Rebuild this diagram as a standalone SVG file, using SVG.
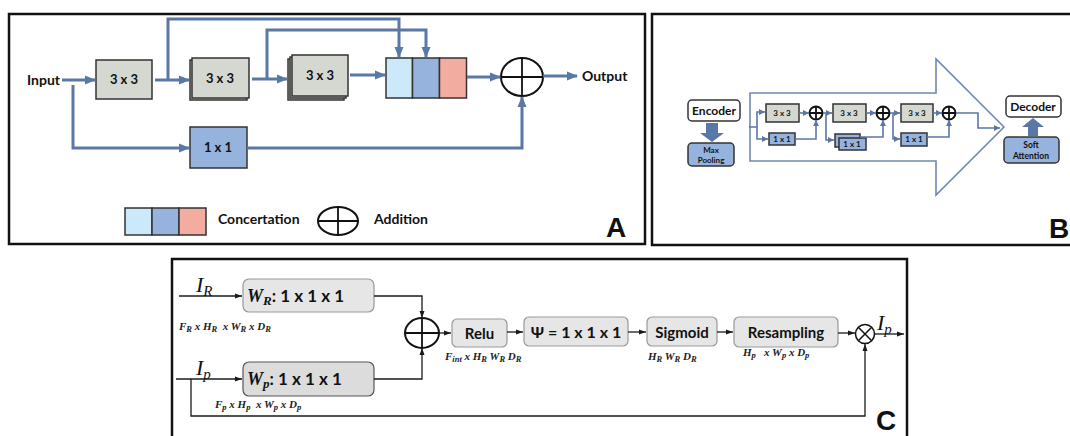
<svg xmlns="http://www.w3.org/2000/svg" width="1070" height="436" viewBox="0 0 1070 436">
<style>
.panel{fill:#fff;stroke:#111;stroke-width:2.5}
.ca{fill:none;stroke:#5a78a6;stroke-width:3}
.cb{fill:none;stroke:#5a78a6;stroke-width:1.6}
.cc{fill:none;stroke:#1a1a1a;stroke-width:1.3}
.gbox{fill:#d4d8d1;stroke:#333;stroke-width:1.5}
.bbox{fill:#95b3dc;stroke:#333;stroke-width:1.5}
.cbox{fill:#e6e6e6;stroke:#999;stroke-width:1.2}
.cboxd{fill:#dcdcdc;stroke:#555;stroke-width:1.2}
.t{font-family:Lato,"Liberation Sans",sans-serif;font-weight:bold;fill:#111}
.big{font-family:"Liberation Sans",Arial,sans-serif;font-weight:bold;fill:#111;font-size:28px}
.m{font-family:"Liberation Serif","Times New Roman",serif;font-style:italic;fill:#111}
.dim{font-family:"Liberation Serif","Times New Roman",serif;font-style:italic;font-weight:bold;fill:#222;font-size:11px}
.sym{fill:#fff;stroke:#111;stroke-width:2}
.symc{fill:none;stroke:#111;stroke-width:1.8}
</style>
<defs>
<marker id="arA" markerWidth="11" markerHeight="10" refX="10" refY="5" orient="auto" markerUnits="userSpaceOnUse"><path d="M0,0.5 L11,5 L0,9.5 z" fill="#5a78a6"/></marker>
<marker id="arB" markerWidth="6" markerHeight="6" refX="6" refY="3" orient="auto" markerUnits="userSpaceOnUse"><path d="M0,0 L6,3 L0,6 z" fill="#5a78a6"/></marker>
<marker id="arC" markerWidth="7" markerHeight="6" refX="7" refY="3" orient="auto" markerUnits="userSpaceOnUse"><path d="M0,0.5 L7,3 L0,5.5 z" fill="#1a1a1a"/></marker>
</defs>
<rect width="1070" height="436" fill="#fff"/>

<!-- Panel A -->
<g id="panelA">
<rect class="panel" x="9" y="14" width="636" height="230"/>
<text class="t" x="27" y="85" font-size="14">Input</text>
<text class="t" x="582" y="81" font-size="14">Output</text>
<text class="big" x="606" y="237">A</text>
</g>
<g id="a-conv1">
<rect class="gbox" x="96" y="60" width="56" height="39"/>
<text class="t" x="124" y="84" font-size="13" text-anchor="middle">3 x 3</text>
</g>
<g id="a-conv2">
<rect class="gbox" x="190" y="60" width="57" height="40"/>
<rect class="gbox" x="192" y="58" width="57" height="40"/>
<text class="t" x="220" y="83" font-size="13" text-anchor="middle">3 x 3</text>
</g>
<g id="a-conv3">
<rect class="gbox" x="288" y="59" width="56" height="41"/>
<rect class="gbox" x="290" y="57" width="56" height="41"/>
<rect class="gbox" x="292" y="55" width="56" height="41"/>
<text class="t" x="320" y="80" font-size="13" text-anchor="middle">3 x 3</text>
</g>
<g id="a-conv1x1">
<rect class="bbox" x="190" y="127" width="57" height="41"/>
<text class="t" x="218" y="152" font-size="13" text-anchor="middle">1 x 1</text>
</g>
<g id="a-concat">
<rect x="386" y="58" width="26.5" height="40" fill="#cbe9f8" stroke="#333" stroke-width="1.5"/>
<rect x="412.5" y="58" width="27" height="40" fill="#95b3dc" stroke="#333" stroke-width="1.5"/>
<rect x="439.5" y="58" width="27" height="40" fill="#f3aca0" stroke="#333" stroke-width="1.5"/>
</g>
<g id="a-add">
<ellipse class="sym" cx="522" cy="77" rx="21" ry="19"/>
<path class="symc" d="M501,77 H543 M522,58 V96"/>
</g>
<g id="a-legend">
<rect x="125" y="208" width="27" height="27" fill="#cbe9f8" stroke="#333" stroke-width="1.5"/>
<rect x="152" y="208" width="27" height="27" fill="#95b3dc" stroke="#333" stroke-width="1.5"/>
<rect x="179" y="208" width="27" height="27" fill="#f3aca0" stroke="#333" stroke-width="1.5"/>
<text class="t" x="218" y="224" font-size="14">Concertation</text>
<ellipse class="sym" cx="338" cy="221" rx="20" ry="14"/>
<path class="symc" d="M318,221 H358 M338,207 V235"/>
<text class="t" x="374" y="224" font-size="14">Addition</text>
</g>
<g id="a-connectors">
<path class="ca" d="M62,80 H95" marker-end="url(#arA)"/>
<path class="ca" d="M155,80 H189" marker-end="url(#arA)"/>
<path class="ca" d="M252,79 H287" marker-end="url(#arA)"/>
<path class="ca" d="M168,80 V19 H399 V57" marker-end="url(#arA)"/>
<path class="ca" d="M267,79 V30 H426 V57" marker-end="url(#arA)"/>
<path class="ca" d="M350,75 H385" marker-end="url(#arA)"/>
<path class="ca" d="M467,77 H500" marker-end="url(#arA)"/>
<path class="ca" d="M543,76 H577" marker-end="url(#arA)"/>
<path class="ca" d="M73,85 V148 H189" marker-end="url(#arA)"/>
<path class="ca" d="M247,148 H522 V97" marker-end="url(#arA)"/>
</g>

<!-- Panel B -->
<g id="panelB">
<rect class="panel" x="652" y="14" width="440" height="231"/>
<path d="M750,93 H936 V59 L1004,127 L936,195 V161 H750 Z" fill="#fff" stroke="#7088b2" stroke-width="1.6"/>
<text class="big" x="1049" y="238">B</text>
</g>
<g id="b-encoder">
<rect x="688" y="100" width="52" height="21" rx="4" fill="#fff" stroke="#333" stroke-width="1.5"/>
<text class="t" x="714" y="115" font-size="12" text-anchor="middle" font-weight="normal">Encoder</text>
</g>
<g id="b-maxpool">
<rect x="688" y="143" width="46" height="23" rx="4" fill="#95b3dc" stroke="#333" stroke-width="1.5"/>
<text class="t" x="711" y="153" font-size="8" text-anchor="middle" font-weight="normal">Max</text>
<text class="t" x="711" y="163" font-size="8" text-anchor="middle" font-weight="normal">Pooling</text>
</g>
<g id="b-decoder">
<rect x="1006" y="96" width="55" height="21" rx="4" fill="#fff" stroke="#333" stroke-width="1.5"/>
<text class="t" x="1033" y="111" font-size="12" text-anchor="middle" font-weight="normal">Decoder</text>
</g>
<g id="b-softatt">
<rect x="1004" y="137" width="55" height="26" rx="4" fill="#95b3dc" stroke="#333" stroke-width="1.5"/>
<text class="t" x="1031" y="148" font-size="8.5" text-anchor="middle" font-weight="normal">Soft</text>
<text class="t" x="1031" y="159" font-size="8.5" text-anchor="middle" font-weight="normal">Attention</text>
</g>
<g id="b-block1">
<rect class="gbox" x="766" y="104" width="33" height="18" stroke-width="1.2"/>
<text class="t" x="782" y="116" font-size="8" text-anchor="middle" font-weight="normal">3 x 3</text>
<rect class="bbox" x="769" y="133" width="26" height="12" stroke-width="1.2"/>
<text class="t" x="782" y="142" font-size="8" text-anchor="middle" font-weight="normal">1 x 1</text>
<circle cx="816" cy="113" r="6.5" class="sym" stroke-width="1.8"/>
<path class="symc" d="M809.5,113 H822.5 M816,106.5 V119.5"/>
</g>
<g id="b-block2">
<rect class="gbox" x="833" y="104" width="33" height="18" stroke-width="1.2"/>
<text class="t" x="849" y="116" font-size="8" text-anchor="middle" font-weight="normal">3 x 3</text>
<rect class="bbox" x="835" y="134" width="25" height="13" stroke-width="1.2"/>
<rect class="bbox" x="839" y="138" width="27" height="12" stroke-width="1.2"/>
<text class="t" x="852" y="147" font-size="8" text-anchor="middle" font-weight="normal">1 x 1</text>
<circle cx="883" cy="113" r="6.5" class="sym" stroke-width="1.8"/>
<path class="symc" d="M876.5,113 H889.5 M883,106.5 V119.5"/>
</g>
<g id="b-block3">
<rect class="gbox" x="901" y="104" width="32" height="18" stroke-width="1.2"/>
<text class="t" x="917" y="116" font-size="8" text-anchor="middle" font-weight="normal">3 x 3</text>
<rect class="bbox" x="901" y="133" width="26" height="13" stroke-width="1.2"/>
<text class="t" x="914" y="142" font-size="8" text-anchor="middle" font-weight="normal">1 x 1</text>
<circle cx="949" cy="113" r="6.5" class="sym" stroke-width="1.8"/>
<path class="symc" d="M942.5,113 H955.5 M949,106.5 V119.5"/>
</g>
<g id="b-connectors">
<path d="M706,123 H718 V133 H724 L712,142 L700,133 H706 Z" fill="#5a78a6"/>
<path d="M1028,136 H1038 V127 H1044 L1033,118 L1022,127 H1028 Z" fill="#5a78a6"/>
<path class="cb" d="M749,127 H757 V112 H765" marker-end="url(#arB)"/>
<path class="cb" d="M757,127 V139 H768" marker-end="url(#arB)"/>
<path class="cb" d="M799,113 H809" marker-end="url(#arB)"/>
<path class="cb" d="M795,139 H816 V120" marker-end="url(#arB)"/>
<path class="cb" d="M823,113 H832" marker-end="url(#arB)"/>
<path class="cb" d="M826,113 V140 H834" marker-end="url(#arB)"/>
<path class="cb" d="M866,113 H876" marker-end="url(#arB)"/>
<path class="cb" d="M860,137 H883 V120" marker-end="url(#arB)"/>
<path class="cb" d="M890,113 H900" marker-end="url(#arB)"/>
<path class="cb" d="M893,113 V139 H900" marker-end="url(#arB)"/>
<path class="cb" d="M933,113 H942" marker-end="url(#arB)"/>
<path class="cb" d="M927,137 H949 V120" marker-end="url(#arB)"/>
<path class="cb" d="M956,113 H978 V128 H1000" marker-end="url(#arB)"/>
</g>

<!-- Panel C -->
<g id="panelC">
<rect class="panel" x="172" y="259" width="735" height="200"/>
<text class="big" x="876" y="430">C</text>
<text class="m" x="196" y="292" font-size="22">I<tspan font-size="15" dy="4">R</tspan></text>
<text class="m" x="196" y="375" font-size="22">I<tspan font-size="15" dy="4">p</tspan></text>
<text class="m" x="877" y="330" font-size="22">I<tspan font-size="15" dy="4">p</tspan></text>
<text class="dim" x="179" y="330" xml:space="preserve">F<tspan font-size="8.5" dy="2">R</tspan><tspan dy="-2"> x H</tspan><tspan font-size="8.5" dy="2">R</tspan><tspan dy="-2">  x W</tspan><tspan font-size="8.5" dy="2">R</tspan><tspan dy="-2"> x D</tspan><tspan font-size="8.5" dy="2">R</tspan></text>
<text class="dim" x="215" y="408" xml:space="preserve">F<tspan font-size="8.5" dy="2">p</tspan><tspan dy="-2"> x H</tspan><tspan font-size="8.5" dy="2">p</tspan><tspan dy="-2">  x W</tspan><tspan font-size="8.5" dy="2">p</tspan><tspan dy="-2"> x D</tspan><tspan font-size="8.5" dy="2">p</tspan></text>
<text class="dim" x="445" y="360">F<tspan font-size="8.5" dy="2">int</tspan><tspan dy="-2"> x H</tspan><tspan font-size="8.5" dy="2">R</tspan><tspan dy="-2"> W</tspan><tspan font-size="8.5" dy="2">R</tspan><tspan dy="-2"> D</tspan><tspan font-size="8.5" dy="2">R</tspan></text>
<text class="dim" x="648" y="360">H<tspan font-size="8.5" dy="2">R</tspan><tspan dy="-2"> W</tspan><tspan font-size="8.5" dy="2">R</tspan><tspan dy="-2"> D</tspan><tspan font-size="8.5" dy="2">R</tspan></text>
<text class="dim" x="743" y="356" xml:space="preserve">H<tspan font-size="8.5" dy="2">p</tspan><tspan dy="-2">   x W</tspan><tspan font-size="8.5" dy="2">p</tspan><tspan dy="-2"> x D</tspan><tspan font-size="8.5" dy="2">p</tspan></text>
</g>
<g id="c-wr">
<rect class="cbox" x="243" y="279" width="131" height="33" rx="6"/>
<text x="247" y="302" font-size="18"><tspan class="m" font-weight="bold">W</tspan><tspan class="m" font-weight="bold" font-size="13" dy="3">R</tspan><tspan class="t" dy="-3" font-size="17">: 1 x 1 x 1</tspan></text>
</g>
<g id="c-wp">
<rect class="cboxd" x="243" y="362" width="131" height="34" rx="6"/>
<text x="247" y="385" font-size="18"><tspan class="m" font-weight="bold">W</tspan><tspan class="m" font-weight="bold" font-size="13" dy="3">p</tspan><tspan class="t" dy="-3" font-size="17">: 1 x 1 x 1</tspan></text>
</g>
<g id="c-add">
<ellipse class="sym" cx="422" cy="333" rx="17" ry="15"/>
<path class="symc" d="M405,333 H439 M422,318 V348"/>
</g>
<g id="c-relu">
<rect class="cbox" x="452" y="319" width="55" height="28" rx="5"/>
<text class="t" x="479.5" y="339" font-size="15" text-anchor="middle">Relu</text>
</g>
<g id="c-psi">
<rect class="cbox" x="524" y="317" width="104" height="29" rx="5"/>
<text class="t" x="576" y="338" font-size="16" text-anchor="middle">Ψ = 1 x 1 x 1</text>
</g>
<g id="c-sigmoid">
<rect class="cbox" x="647" y="317" width="70" height="29" rx="5"/>
<text class="t" x="682" y="338" font-size="15" text-anchor="middle">Sigmoid</text>
</g>
<g id="c-resampling">
<rect class="cbox" x="734" y="317" width="104" height="30" rx="5"/>
<text class="t" x="786" y="338" font-size="15" text-anchor="middle">Resampling</text>
</g>
<g id="c-mult">
<circle cx="865" cy="334" r="9.5" fill="#fff" stroke="#111" stroke-width="1.5"/>
<path d="M858.3,327.3 L871.7,340.7 M871.7,327.3 L858.3,340.7" stroke="#111" stroke-width="1.5"/>
</g>
<g id="c-connectors">
<path class="cc" d="M179,296 H242" marker-end="url(#arC)"/>
<path class="cc" d="M176,379 H242" marker-end="url(#arC)"/>
<path class="cc" d="M374,296 H422 V318" marker-end="url(#arC)"/>
<path class="cc" d="M374,379 H422 V348" marker-end="url(#arC)"/>
<path class="cc" d="M191,379 V416 H865 V344" marker-end="url(#arC)"/>
<path class="cc" d="M439,333 H451" marker-end="url(#arC)"/>
<path class="cc" d="M507,332 H523" marker-end="url(#arC)"/>
<path class="cc" d="M628,332 H646" marker-end="url(#arC)"/>
<path class="cc" d="M717,332 H733" marker-end="url(#arC)"/>
<path class="cc" d="M838,333 H855" marker-end="url(#arC)"/>
<path class="cc" d="M875,334 H904" marker-end="url(#arC)"/>
</g>
</svg>
